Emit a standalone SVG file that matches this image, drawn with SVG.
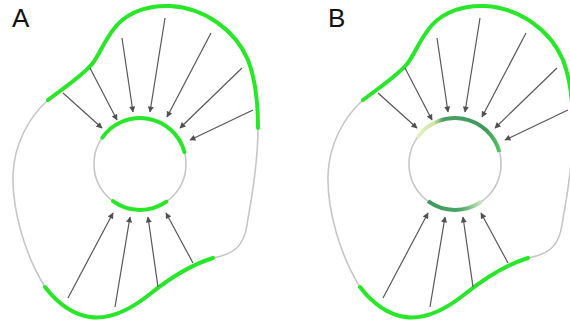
<svg xmlns="http://www.w3.org/2000/svg" width="570" height="327" viewBox="0 0 570 327">
<style>
.gray{fill:none;stroke:#c6c6c6;stroke-width:1.6}
.grn{fill:none;stroke:#28e628;stroke-width:4;stroke-linecap:round}
.arr{fill:none;stroke:#575757;stroke-width:1.2;marker-end:url(#ah)}
.lbl{font-family:"Liberation Sans",Arial,sans-serif;font-size:26px;fill:#111}
</style>
<defs>
<marker id="ah" viewBox="0 0 10 10" refX="9" refY="5" markerWidth="7" markerHeight="6" markerUnits="userSpaceOnUse" orient="auto">
<path d="M0,0 L10,5 L0,10 z" fill="#505050"/>
</marker>
<linearGradient id="gTop" gradientUnits="userSpaceOnUse" x1="100" y1="0" x2="188" y2="0">
<stop offset="0" stop-color="#eaf2c4"/>
<stop offset="0.22" stop-color="#cfe4a2"/>
<stop offset="0.32" stop-color="#4aa062"/>
<stop offset="0.8" stop-color="#3d9a5c"/>
<stop offset="1" stop-color="#5ccc62"/>
</linearGradient>
<linearGradient id="gBot" gradientUnits="userSpaceOnUse" x1="112" y1="0" x2="168" y2="0">
<stop offset="0" stop-color="#3d985c"/>
<stop offset="0.6" stop-color="#4aa866"/>
<stop offset="1" stop-color="#d6ecc2"/>
</linearGradient>
<g id="outer">
<path class="gray" d="M258,128 C258,170 250,205 247,225 C244,245 235,254 213,258"/>
<path class="gray" d="M45,287 C25,255 12,210 13,175 C14,145 28,118 48,100"/>
<path class="grn" d="M48,100 C65,87 82,76 92,64 C100,54 104,40 117,25 C130,11 150,5 170,6 C205,8 235,30 248,60 C255,78 258,105 258,128"/>
<path class="grn" d="M213,258 C190,265 170,278 150,294 C130,310 110,320 90,317 C70,314 55,300 45,287"/>
</g>
<g id="arrows">
<line class="arr" x1="63" y1="93" x2="102" y2="128"/>
<line class="arr" x1="90" y1="68" x2="117" y2="120"/>
<line class="arr" x1="122" y1="38" x2="133" y2="112"/>
<line class="arr" x1="165" y1="18" x2="150" y2="112"/>
<line class="arr" x1="211" y1="33" x2="167" y2="117"/>
<line class="arr" x1="242" y1="68" x2="180" y2="128"/>
<line class="arr" x1="253" y1="110" x2="190" y2="140"/>
<line class="arr" x1="68" y1="298" x2="113" y2="213"/>
<line class="arr" x1="115" y1="307" x2="130" y2="217"/>
<line class="arr" x1="158" y1="287" x2="148" y2="217"/>
<line class="arr" x1="193" y1="263" x2="166" y2="213"/>
</g>
</defs>
<g id="panelA">
<text class="lbl" x="12" y="27">A</text>
<use href="#outer"/>
<g id="innerA">
<circle class="gray" cx="140" cy="164" r="46"/>
<path class="grn" d="M102.3,137.6 A46,46 0 0 1 184.4,152.1"/>
<path class="grn" d="M166.4,201.7 A46,46 0 0 1 113,201.2"/>
</g>
</g>
<g id="panelB">
<text class="lbl" x="328" y="27">B</text>
<g transform="translate(315,0)">
<use href="#outer"/>
<g id="innerB">
<circle class="gray" cx="140" cy="164" r="46"/>
<path fill="none" stroke="url(#gTop)" stroke-width="4" d="M102.3,137.6 A46,46 0 0 1 184.4,152.1"/>
<path fill="none" stroke="url(#gBot)" stroke-width="4" d="M166.4,201.7 A46,46 0 0 1 113,201.2"/>
</g>
</g>
</g>
<g id="connectors">
<use href="#arrows"/>
<use href="#arrows" transform="translate(315,0)"/>
</g>
</svg>
